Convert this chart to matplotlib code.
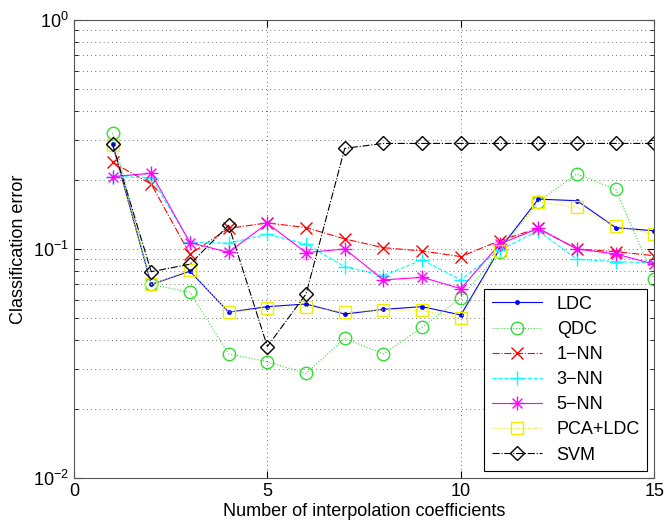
import matplotlib
matplotlib.use("Agg")
import matplotlib.pyplot as plt
from matplotlib.path import Path
from matplotlib.ticker import LogLocator, NullFormatter

plt.rcParams["font.family"] = ["Liberation Sans", "DejaVu Sans"]
plt.rcParams["mathtext.fontset"] = "custom"
plt.rcParams["mathtext.rm"] = "Liberation Sans"

# Number of interpolation coefficients
coeffs = list(range(1, 16))

ldc = [0.287, 0.070, 0.080, 0.053, 0.056, 0.0575, 0.052, 0.0545, 0.056, 0.0515,
       0.0997, 0.165, 0.1625, 0.124, 0.120]
qdc = [0.320, 0.070, 0.0647, 0.0348, 0.0322, 0.0286, 0.0407, 0.0348, 0.0455, 0.0613,
       0.0973, 0.161, 0.2127, 0.182, 0.074]
nn1 = [0.239, 0.192, 0.0948, 0.123, 0.130, 0.124, 0.1106, 0.1013, 0.098, 0.0926,
       0.1087, 0.123, 0.100, 0.0973, 0.0935]
nn3 = [0.207, 0.205, 0.107, 0.106, 0.116, 0.105, 0.0837, 0.0765, 0.0896, 0.0733,
       0.099, 0.120, 0.0902, 0.088, 0.087]
nn5 = [0.207, 0.214, 0.1066, 0.0967, 0.1295, 0.0964, 0.100, 0.0733, 0.0752, 0.0671,
       0.105, 0.123, 0.100, 0.0951, 0.0858]
pca_ldc = [0.285, 0.070, 0.081, 0.053, 0.055, 0.056, 0.053, 0.0542, 0.054, 0.0499,
           0.098, 0.161, 0.152, 0.126, 0.116]
svm = [0.287, 0.0796, 0.0858, 0.127, 0.0375, 0.0636, 0.275, 0.289, 0.289, 0.289,
       0.289, 0.289, 0.289, 0.289, 0.289]

# matlab style asterisk: plus and cross on top of each other
d = 0.7071
asterisk = Path(
    [(-1, 0), (1, 0), (0, -1), (0, 1), (-d, -d), (d, d), (-d, d), (d, -d)],
    [Path.MOVETO, Path.LINETO] * 4,
)

fig = plt.figure(figsize=(6.65, 5.25), dpi=100)
ax = fig.add_axes([0.111, 0.0895, 0.873, 0.8725])

lw = 0.8
ax.plot(coeffs, ldc, "b.-", lw=lw, ms=5, label="LDC")
ax.plot(coeffs, qdc, ":", color="#33dd33", marker="o", mfc="none", ms=9, lw=lw, label="QDC")
ax.plot(coeffs, nn1, "-.", color="red", marker="x", ms=8, lw=lw, label="1\u2212NN")
ax.plot(coeffs, nn3, "--", color="cyan", marker="+", ms=10, lw=lw, label="3\u2212NN")
ax.plot(coeffs, nn5, "-", color="magenta", marker=asterisk, ms=10, mew=1.0, lw=lw, label="5\u2212NN")
ax.plot(coeffs, pca_ldc, ":", color="#eeee00", marker="s", mfc="none", ms=8, lw=lw, label="PCA+LDC")
ax.plot(coeffs, svm, "-.", color="black", marker="D", mfc="none", ms=7, lw=lw, label="SVM")

ax.set_yscale("log")
ax.set_xlim(0, 15)
ax.set_ylim(1e-2, 1)
ax.set_xticks([0, 5, 10, 15])
ax.yaxis.set_major_locator(LogLocator(base=10, numticks=5))
ax.yaxis.set_minor_locator(LogLocator(base=10, subs=range(2, 10), numticks=20))
ax.yaxis.set_minor_formatter(NullFormatter())

ax.grid(True, which="major", linestyle=(0, (1, 4)), color="#444444", lw=0.6)
ax.grid(True, which="minor", axis="y", linestyle=(0, (1, 4)), color="#444444", lw=0.6)
ax.tick_params(which="both", direction="in", top=True, right=True, labelsize=13)
ax.tick_params(which="major", length=5)
ax.tick_params(which="minor", length=3)
for s in ax.spines.values():
    s.set_color("#555555")

ax.set_xlabel("Number of interpolation coefficients", fontsize=13, labelpad=2)
ax.set_ylabel("Classification error", fontsize=13)

leg = ax.legend(loc="lower right", fontsize=13, fancybox=False, framealpha=1,
                edgecolor="black", handlelength=2.8, borderaxespad=0.4,
                labelspacing=0.45)
leg.get_frame().set_linewidth(0.8)

fig.savefig("out.png", dpi=100)
